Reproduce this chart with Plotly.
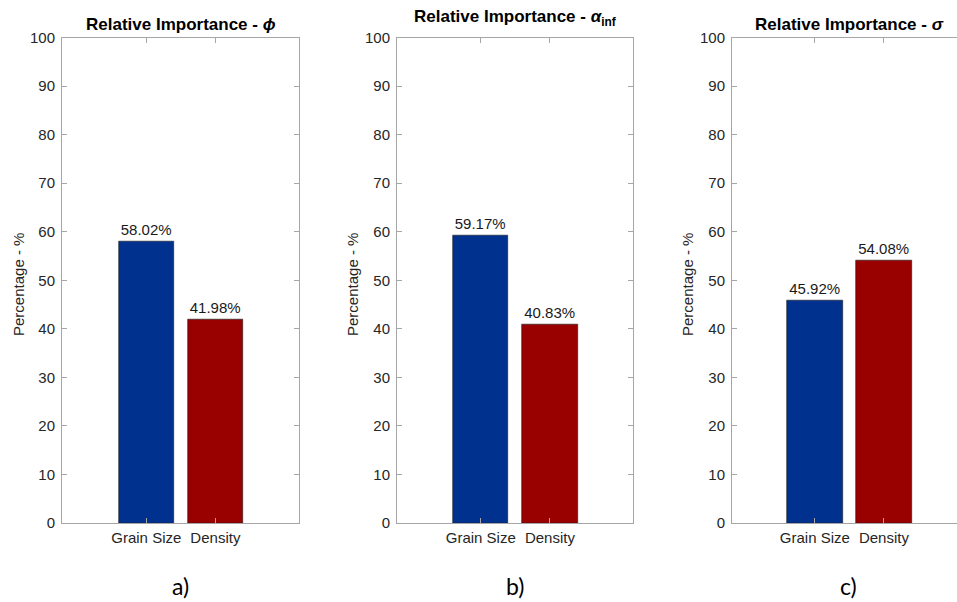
import plotly.graph_objects as go
from plotly.subplots import make_subplots

# Relative importance of the two inputs for each output parameter
categories = ["Grain Size", "Density"]
phi_values = [58.02, 41.98]
alpha_inf_values = [59.17, 40.83]
sigma_values = [45.92, 54.08]
panel_values = [phi_values, alpha_inf_values, sigma_values]
panel_titles = [
    "<b>Relative Importance - <i>ϕ</i></b>",
    "<b>Relative Importance - <i>α</i><sub>inf</sub></b>",
    "<b>Relative Importance - <i>σ</i></b>",
]
panel_tags = ["a)", "b)", "c)"]
y_ticks = list(range(0, 101, 10))

bar_colors = ["#00318f", "#990000"]
W, H = 957, 602
FONT = "Liberation Sans, Arial, sans-serif"
AXIS_GREY = "#a6a6a6"
TEXT_GREY = "#262626"

# plot boxes in pixels: (left, right, left-range, right-range)
y_top_px, y_bot_px = 37.5, 523
boxes = [
    (62, 299, -1.22, 2.21),
    (397, 633, -1.21, 2.20),
    (732, 957, -1.20, 1 + (957 - 884) / 69.0),
]

fig = make_subplots(rows=1, cols=3)
xs = [0, 1]
for i, vals in enumerate(panel_values):
    fig.add_trace(
        go.Bar(
            x=xs, y=vals, width=0.8,
            marker=dict(color=bar_colors, line=dict(color="#1a1a1a", width=0.6)),
            text=[f"{v:.2f}%" for v in vals], textposition="outside",
            textfont=dict(family=FONT, size=15, color="#1a1a1a"),
            cliponaxis=False, showlegend=False,
        ),
        row=1, col=i + 1,
    )

ydom = [(H - y_bot_px) / H, (H - y_top_px) / H]
for i, (l, r, r0, r1) in enumerate(boxes):
    n = "" if i == 0 else str(i + 1)
    last = i == 2
    fig.layout["xaxis" + n].update(
        domain=[l / W, r / W], range=[r0, r1], automargin=False,
        tickvals=xs, ticktext=categories, ticks="inside", ticklen=5,
        tickcolor=AXIS_GREY, showline=True, linecolor=AXIS_GREY, linewidth=1,
        mirror="ticks", showgrid=False, zeroline=False, ticklabelstandoff=1,
        tickfont=dict(family=FONT, size=15, color=TEXT_GREY), fixedrange=True,
    )
    fig.layout["yaxis" + n].update(
        domain=ydom, range=[0, 100], tickvals=y_ticks, automargin=False,
        ticks="inside", ticklen=5, tickcolor=AXIS_GREY, showline=True,
        linecolor=AXIS_GREY, linewidth=1, mirror=False if last else "ticks",
        showgrid=False, zeroline=False, ticklabelstandoff=3,
        tickfont=dict(family=FONT, size=15, color=TEXT_GREY), fixedrange=True,
    )

annotations = []
title_x = [180.5, 515, 849]
title_y = [24, 18, 24]
ylabel_x = [18, 352, 687]
tag_x = [180, 515, 848]
for i in range(3):
    annotations.append(dict(
        x=title_x[i] / W, y=1 - title_y[i] / H, xref="paper", yref="paper",
        text=panel_titles[i], showarrow=False, xanchor="center", yanchor="middle",
        font=dict(family=FONT, size=17, color="#000000"),
    ))
    annotations.append(dict(
        x=ylabel_x[i] / W, y=1 - 285 / H, xref="paper", yref="paper",
        text="Percentage - %", textangle=-90, showarrow=False,
        xanchor="center", yanchor="middle",
        font=dict(family=FONT, size=15, color=TEXT_GREY),
    ))
    annotations.append(dict(
        x=tag_x[i] / W, y=1 - 586 / H, xref="paper", yref="paper",
        text=panel_tags[i], showarrow=False, xanchor="center", yanchor="middle",
        font=dict(family="Lato, Open Sans, sans-serif", size=23, color="#000000"),
    ))

fig.update_layout(
    width=W, height=H, margin=dict(l=0, r=0, t=0, b=0, autoexpand=False),
    paper_bgcolor="white", plot_bgcolor="white",
    annotations=annotations, bargap=0,
)

fig.write_html("out.html", config={"displayModeBar": False})
